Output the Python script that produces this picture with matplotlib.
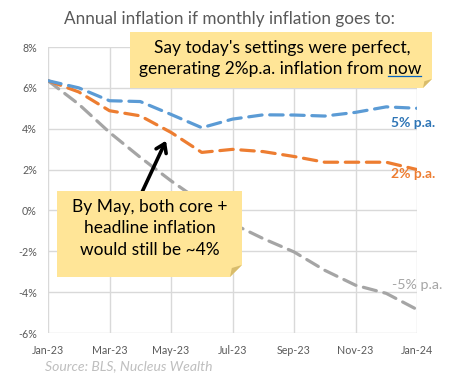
import matplotlib
matplotlib.use("Agg")
import matplotlib.pyplot as plt
from matplotlib.patches import Polygon

# annual inflation path (%), Jan-23 .. Jan-24, for each monthly-rate scenario
months = ["Jan-23", "Feb-23", "Mar-23", "Apr-23", "May-23", "Jun-23", "Jul-23",
          "Aug-23", "Sep-23", "Oct-23", "Nov-23", "Dec-23", "Jan-24"]
infl_5pa = [6.35, 6.0, 5.37, 5.33, 4.7, 4.05, 4.47, 4.68, 4.67, 4.62, 4.8, 5.07, 5.0]
infl_2pa = [6.35, 5.8, 4.88, 4.63, 3.82, 2.84, 2.99, 2.88, 2.64, 2.36, 2.36, 2.36, 2.0]
infl_m5pa = [6.35, 5.2, 3.82, 2.6, 1.45, 0.4, -0.65, -1.38, -2.03, -2.93, -3.66, -4.06, -4.85]
series_labels = ["5% p.a.", "2% p.a.", "-5% p.a."]
yticks = [-6, -4, -2, 0, 2, 4, 6, 8]

BLUE, ORANGE, GREY = "#5B9BD5", "#ED7D31", "#A5A5A5"
NOTE = "#FFE597"
W, H = 453, 377
NOTE_FS = 12.5

plt.rcParams["font.family"] = ["Lato", "DejaVu Sans"]


def px(x, y):
    # pixel (top-left origin) -> figure fraction
    return (x / W, 1 - y / H)


fig = plt.figure(figsize=(W / 100, H / 100), dpi=100)
ax = fig.add_axes([48 / W, 1 - 333 / H, (417 - 48) / W, (333 - 47) / H])

x = list(range(len(months)))
dash = (0, (4.2, 2.4))
for vals, col in [(infl_m5pa, GREY), (infl_2pa, ORANGE), (infl_5pa, BLUE)]:
    ax.plot(x, vals, color=col, lw=2.3, linestyle=dash, dash_capstyle="round", zorder=3)

ax.set_xlim(0, 12)
ax.set_ylim(-6, 8)
ax.set_xticks(x[::2])
ax.set_xticklabels(months[::2])
ax.set_yticks(yticks)
ax.set_yticklabels([f"{v}%" for v in yticks])
ax.grid(True, color="#D9D9D9", lw=1)
for s in ax.spines.values():
    s.set_visible(False)
ax.tick_params(length=0, labelsize=7.7, labelcolor="#595959", pad=8)
ax.tick_params(axis="x", pad=9)

# series labels
ax.text(11.15, 4.29, series_labels[0], color="#2E75B6", fontsize=10, fontweight="bold", va="center")
ax.text(11.15, 1.8, series_labels[1], color=ORANGE, fontsize=10, fontweight="bold", va="center")
ax.text(11.2, -3.66, series_labels[2], color=GREY, fontsize=10.3, va="center")

fig.text(*px(229, 19), "Annual inflation if monthly inflation goes to:",
         ha="center", va="center", fontsize=12.3, color="#595959")
fig.text(*px(45, 366), "Source: BLS, Nucleus Wealth", ha="left", va="center",
         fontsize=10.1, style="italic", color="#BFBFBF")


def note(x0, y0, x1, y1, f):
    body = Polygon([px(x0, y0), px(x1, y0), px(x1, y1 - f), px(x1 - f, y1), px(x0, y1)],
                   closed=True, transform=fig.transFigure, facecolor=NOTE,
                   edgecolor="none", zorder=5)
    fold = Polygon([px(x1, y1 - f), px(x1 - f, y1), px(x1 - f * 0.85, y1 - f * 0.75)],
                   closed=True, transform=fig.transFigure, facecolor="#D8BC6C",
                   edgecolor="none", zorder=6)
    fig.patches.extend([body, fold])


note(130, 32, 432, 88, 9)
note(57, 191, 242, 277, 12)

fig.text(*px(282, 48), "Say today's settings were perfect,", ha="center", va="center",
         fontsize=NOTE_FS, color="black", zorder=7)
line2 = fig.text(*px(280, 69), "generating 2%p.a. inflation from now", ha="center",
                 va="center", fontsize=NOTE_FS, color="black", zorder=7)

fig.text(*px(150, 207), "By May, both core +", ha="center", va="center", fontsize=NOTE_FS, zorder=7)
fig.text(*px(150, 228), "headline inflation", ha="center", va="center", fontsize=NOTE_FS, zorder=7)
fig.text(*px(150, 250), "would still be ~4%", ha="center", va="center", fontsize=NOTE_FS, zorder=7)

# underline "now"
fig.canvas.draw()
r = fig.canvas.get_renderer()
bb = line2.get_window_extent(r)
tmp = fig.text(0, 0, "now", fontsize=NOTE_FS)
wnow = tmp.get_window_extent(r).width
tmp.remove()
fig.lines.append(plt.Line2D([(bb.x1 - wnow) / W, bb.x1 / W], [(bb.y0 + 1) / H, (bb.y0 + 1) / H],
                            transform=fig.transFigure, color="#0563C1", lw=0.9, zorder=8))

# arrow to May
ax.annotate("", xy=((166 - 48) / 30.75, (210 - 140) / 20.5),
            xytext=((140 - 48) / 30.75, (210 - 196) / 20.5),
            arrowprops=dict(arrowstyle="->,head_length=0.6,head_width=0.4",
                            lw=2.6, color="black", shrinkA=0, shrinkB=0), zorder=8)

fig.savefig("out.png", dpi=100)
